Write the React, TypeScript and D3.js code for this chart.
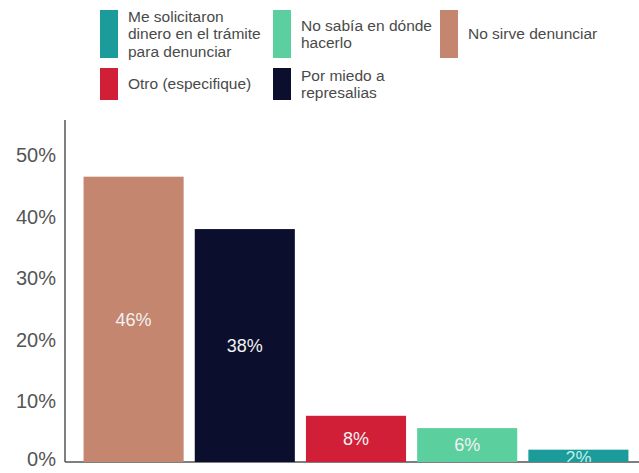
import React from "react";
import * as d3 from "d3";

const categories = ["No sirve denunciar", "Por miedo a represalias", "Otro (especifique)", "No sabía en dónde hacerlo", "Me solicitaron dinero en el trámite para denunciar"];
const values = [46.3, 37.8, 7.5, 5.5, 2.0];
const labels = ["46%", "38%", "8%", "6%", "2%"];
const colors = ["#c4866f", "#0b0e2c", "#d01f36", "#5ccf9f", "#1b9c9a"];
const ticks = [0, 10, 20, 30, 40, 50];

const legendItems = [
  { lines: ["Me solicitaron", "dinero en el trámite", "para denunciar"], color: "#1b9c9a", col: 0, row: 0 },
  { lines: ["No sabía en dónde", "hacerlo"], color: "#5ccf9f", col: 1, row: 0 },
  { lines: ["No sirve denunciar"], color: "#c4866f", col: 2, row: 0 },
  { lines: ["Otro (especifique)"], color: "#d01f36", col: 0, row: 1 },
  { lines: ["Por miedo a", "represalias"], color: "#0b0e2c", col: 1, row: 1 },
];

export default function App() {
  const W = 639, H = 473;
  const baseY = 462;
  const axisX = 65;
  const y = d3.scaleLinear().domain([0, 55.5]).range([baseY, 120]);
  const x = d3.scaleBand().domain(categories).range([78, 634]).paddingInner(0.1).paddingOuter(0.05);
  const font = "Liberation Sans, Arial, sans-serif";
  const colX = [100, 273, 440];
  const rowY = [10, 68];
  const rowH = [48, 32];
  return (
    <svg width={W} height={H} style={{ position: "absolute", left: 0, top: 0 }} fontFamily={font}>
      <defs>
        <clipPath id="plot">
          <rect x={0} y={0} width={W} height={baseY} />
        </clipPath>
      </defs>
      {legendItems.map((it, i) => {
        const sx = colX[it.col];
        const sy = rowY[it.row];
        const h = rowH[it.row];
        const cy = sy + h / 2;
        const lh = 17.5;
        const start = cy - ((it.lines.length - 1) * lh) / 2;
        return (
          <g key={i}>
            <rect x={sx} y={sy} width={18} height={h} fill={it.color} />
            {it.lines.map((l, j) => (
              <text key={j} x={sx + 28} y={start + j * lh} dy="0.35em" fontSize={15.5} fill="#4a4a4a">
                {l}
              </text>
            ))}
          </g>
        );
      })}
      <line x1={axisX} x2={axisX} y1={120} y2={baseY} stroke="#555" strokeWidth={1.5} />
      <line x1={axisX} x2={W} y1={baseY} y2={baseY} stroke="#555" strokeWidth={1.5} />
      {ticks.map((t) => (
        <text key={t} x={56} y={Math.min(y(t) + 1, 459)} dy="0.35em" textAnchor="end" fontSize={20} fill="#555">
          {t}%
        </text>
      ))}
      <g clipPath="url(#plot)">
        {categories.map((c, i) => (
          <g key={c}>
            <rect x={x(c)} y={y(values[i])} width={x.bandwidth()} height={baseY - y(values[i])} fill={colors[i]} />
            <text
              x={(x(c) as number) + x.bandwidth() / 2}
              y={(y(values[i]) + baseY) / 2 + (i === 4 ? 2 : 0)}
              dy="0.35em"
              textAnchor="middle"
              fontSize={18}
              fill={i === 4 ? "#bfeee8" : "#f2f2f2"}
            >
              {labels[i]}
            </text>
          </g>
        ))}
      </g>
    </svg>
  );
}
